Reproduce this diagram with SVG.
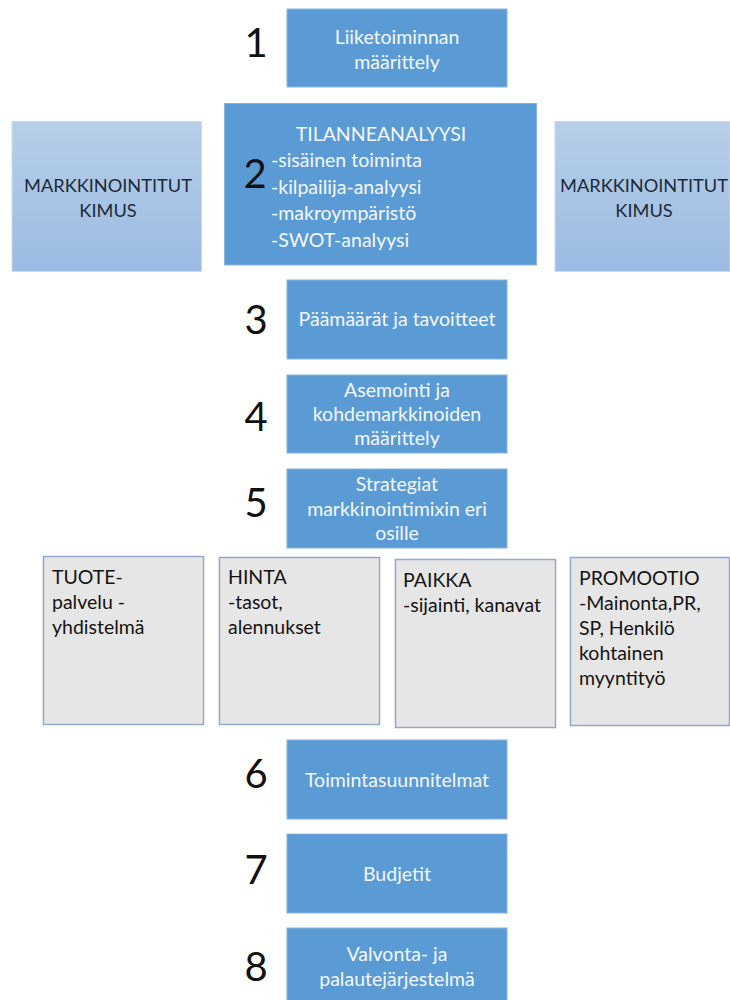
<svg xmlns="http://www.w3.org/2000/svg" width="730" height="1000" viewBox="0 0 730 1000">
  <defs>
    <linearGradient id="researchFill" x1="0" y1="0" x2="0" y2="1">
      <stop offset="0" stop-color="#b7cee9"/>
      <stop offset="1" stop-color="#9bbbe2"/>
    </linearGradient>
    <style>
      .step { fill: #5b9bd5; stroke: #86b3de; stroke-width: 1; }
      .research { fill: url(#researchFill); stroke: #cbdaee; stroke-width: 1; }
      .mix { fill: #e7e6e6; stroke: #92a9c8; stroke-width: 1.5; }
      text { font-family: Lato, "Open Sans", "Liberation Sans", sans-serif; font-size: 19.5px; }
      .light { fill: #f3f7fc; }
      .dark { fill: #1d2a38; font-size: 18.2px; }
      .ink { fill: #141414; }
      .mid { text-anchor: middle; }
      .num { font-size: 40px; fill: #111111; text-anchor: middle; }
    </style>
  </defs>

  <rect width="730" height="1000" fill="#ffffff"/>

  <!-- step 1 -->
  <g id="step1">
    <rect class="step" x="287" y="9" width="220" height="78"/>
    <text class="light mid" x="397" y="44">Liiketoiminnan</text>
    <text class="light mid" x="397" y="68.5">määrittely</text>
    <text class="num" x="256" y="57">1</text>
  </g>

  <!-- market research, left -->
  <g id="research-left">
    <rect class="research" x="12" y="121.5" width="189.5" height="150"/>
    <text class="dark mid" x="108" y="192">MARKKINOINTITUT</text>
    <text class="dark mid" x="108" y="217">KIMUS</text>
  </g>

  <!-- step 2: situation analysis -->
  <g id="step2">
    <rect class="step" x="224.5" y="103.5" width="312" height="161.5"/>
    <text class="light mid" x="381" y="141">TILANNEANALYYSI</text>
    <text class="light" x="271" y="167">-sisäinen toiminta</text>
    <text class="light" x="271" y="193.5">-kilpailija-analyysi</text>
    <text class="light" x="271" y="220">-makroympäristö</text>
    <text class="light" x="271" y="246.5">-SWOT-analyysi</text>
    <text class="num" x="255" y="188">2</text>
  </g>

  <!-- market research, right (box meets the page edge) -->
  <g id="research-right">
    <rect class="research" x="555" y="121.5" width="175" height="150"/>
    <text class="dark mid" x="644" y="192">MARKKINOINTITUT</text>
    <text class="dark mid" x="644" y="217">KIMUS</text>
  </g>

  <!-- step 3 -->
  <g id="step3">
    <rect class="step" x="287" y="280" width="220" height="79"/>
    <text class="light mid" x="397" y="326">Päämäärät ja tavoitteet</text>
    <text class="num" x="256" y="334">3</text>
  </g>

  <!-- step 4 -->
  <g id="step4">
    <rect class="step" x="287" y="375" width="220" height="78"/>
    <text class="light mid" x="397" y="396.5">Asemointi ja</text>
    <text class="light mid" x="397" y="420.5">kohdemarkkinoiden</text>
    <text class="light mid" x="397" y="444.5">määrittely</text>
    <text class="num" x="256" y="431">4</text>
  </g>

  <!-- step 5 -->
  <g id="step5">
    <rect class="step" x="287" y="469" width="220" height="79"/>
    <text class="light mid" x="397" y="491">Strategiat</text>
    <text class="light mid" x="397" y="515.5">markkinointimixin eri</text>
    <text class="light mid" x="397" y="540">osille</text>
    <text class="num" x="256" y="517">5</text>
  </g>

  <!-- marketing mix -->
  <g id="mix-product">
    <rect class="mix" x="43.5" y="556.5" width="160" height="168"/>
    <text class="ink" x="52" y="584">TUOTE-</text>
    <text class="ink" x="52" y="609">palvelu -</text>
    <text class="ink" x="52" y="634">yhdistelmä</text>
  </g>
  <g id="mix-price">
    <rect class="mix" x="219.5" y="557.5" width="160" height="167"/>
    <text class="ink" x="228" y="584">HINTA</text>
    <text class="ink" x="228" y="609">-tasot,</text>
    <text class="ink" x="228" y="634">alennukset</text>
  </g>
  <g id="mix-place">
    <rect class="mix" x="395.5" y="559.5" width="160" height="168"/>
    <text class="ink" x="403" y="587">PAIKKA</text>
    <text class="ink" x="403" y="612">-sijainti, kanavat</text>
  </g>
  <g id="mix-promotion">
    <rect class="mix" x="570.5" y="557.5" width="159" height="168"/>
    <text class="ink" x="579" y="585">PROMOOTIO</text>
    <text class="ink" x="579" y="610">-Mainonta,PR,</text>
    <text class="ink" x="579" y="635">SP, Henkilö</text>
    <text class="ink" x="579" y="660">kohtainen</text>
    <text class="ink" x="579" y="685">myyntityö</text>
  </g>

  <!-- step 6 -->
  <g id="step6">
    <rect class="step" x="287" y="740" width="220" height="79"/>
    <text class="light mid" x="397" y="787">Toimintasuunnitelmat</text>
    <text class="num" x="256" y="788">6</text>
  </g>

  <!-- step 7 -->
  <g id="step7">
    <rect class="step" x="287" y="834" width="220" height="79"/>
    <text class="light mid" x="397" y="881">Budjetit</text>
    <text class="num" x="256" y="884">7</text>
  </g>

  <!-- step 8 -->
  <g id="step8">
    <rect class="step" x="287" y="928" width="220" height="80"/>
    <text class="light mid" x="397" y="961">Valvonta- ja</text>
    <text class="light mid" x="397" y="986">palautejärjestelmä</text>
    <text class="num" x="256" y="981">8</text>
  </g>

  <g id="connectors"/>
</svg>
